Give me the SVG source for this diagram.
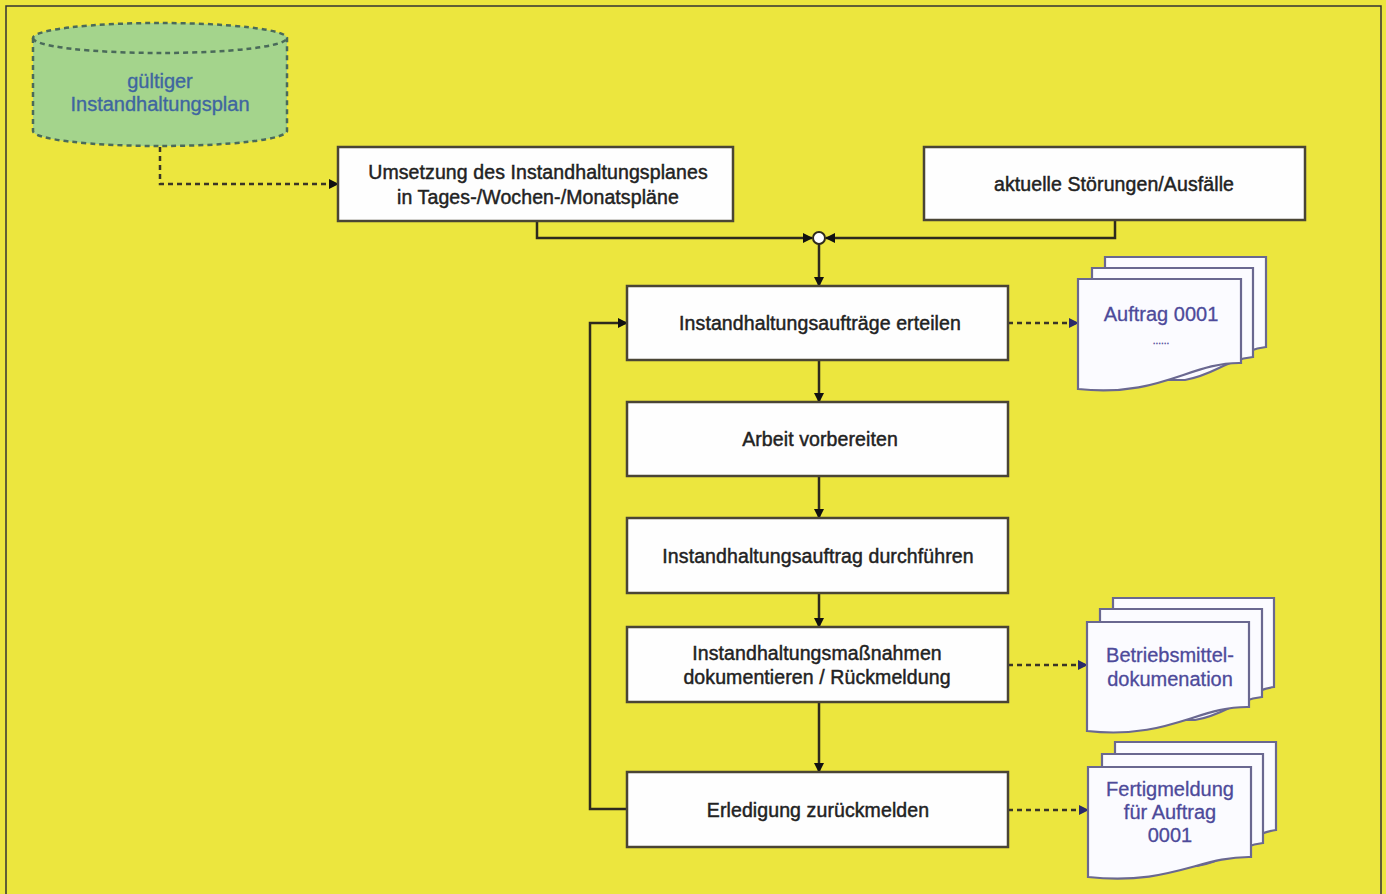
<svg xmlns="http://www.w3.org/2000/svg" width="1386" height="894" viewBox="0 0 1386 894">
<defs>
<style>
.box{fill:#fefefe;stroke:#4a4535;stroke-width:2.5}
.t{font-family:"Liberation Sans",Arial,sans-serif;font-size:19.5px;letter-spacing:0.1px;fill:#222;text-anchor:middle;stroke:#222;stroke-width:0.45}
.dt{font-family:"Liberation Sans",Arial,sans-serif;font-size:20px;fill:#4d4a9a;text-anchor:middle;stroke:#4d4a9a;stroke-width:0.3}
.ct{font-family:"Liberation Sans",Arial,sans-serif;font-size:20px;fill:#3f66a0;text-anchor:middle;stroke:#3f66a0;stroke-width:0.35}
.line{fill:none;stroke:#2e2a1e;stroke-width:2.5}
.dash{fill:none;stroke:#3a3626;stroke-width:2.5;stroke-dasharray:5 4}
.page{fill:#fbfbff;stroke:#6a6890;stroke-width:2.2}
</style>
<marker id="ah" viewBox="0 0 10 10" refX="9" refY="5" markerWidth="10" markerHeight="10" markerUnits="userSpaceOnUse" orient="auto">
<path d="M0,0 L10,5 L0,10 z" fill="#111"/>
</marker>
<marker id="ahb" viewBox="0 0 10 10" refX="9" refY="5" markerWidth="10" markerHeight="10" markerUnits="userSpaceOnUse" orient="auto">
<path d="M0,0 L10,5 L0,10 z" fill="#2a2a6a"/>
</marker>
</defs>
<rect x="0" y="0" width="1386" height="894" fill="#ece63e"/>
<path d="M6,894 V6 H1381 V894" fill="none" stroke="#333" stroke-width="1.5"/>

<g id="plan">
<path d="M33,38 V131 A127,15 0 0 0 287,131 V38 A127,15 0 0 0 33,38 Z" fill="#a4d48c" stroke="#4a6a5a" stroke-width="2.5" stroke-dasharray="5 4"/>
<path d="M33,38 A127,15 0 0 0 287,38" fill="none" stroke="#4a6a5a" stroke-width="2.5" stroke-dasharray="5 4"/>
<text class="ct" x="160" y="88">gültiger</text>
<text class="ct" x="160" y="111">Instandhaltungsplan</text>
</g>

<g id="connectors">
<path class="dash" d="M160,147 V184 H338" marker-end="url(#ah)"/>
<path class="line" d="M537,221 V238 H812" marker-end="url(#ah)"/>
<path class="line" d="M1115,220 V238 H826" marker-end="url(#ah)"/>
<circle cx="819" cy="238" r="6" fill="#fff" stroke="#2e2a1e" stroke-width="2"/>
<path class="line" d="M819,244 V286" marker-end="url(#ah)"/>
<path class="line" d="M819,360 V402" marker-end="url(#ah)"/>
<path class="line" d="M819,476 V518" marker-end="url(#ah)"/>
<path class="line" d="M819,593 V627" marker-end="url(#ah)"/>
<path class="line" d="M819,702 V772" marker-end="url(#ah)"/>
<path class="line" d="M627,809 H590 V323 H627" marker-end="url(#ah)"/>
<path class="dash" d="M1008,323 H1078" marker-end="url(#ahb)"/>
<path class="dash" d="M1008,665 H1087" marker-end="url(#ahb)"/>
<path class="dash" d="M1008,810 H1088" marker-end="url(#ahb)"/>
</g>

<g id="umsetzung">
<rect class="box" x="338" y="147" width="395" height="74"/>
<text class="t" x="538" y="179">Umsetzung des Instandhaltungsplanes</text>
<text class="t" x="538" y="204">in Tages-/Wochen-/Monatspläne</text>
</g>
<g id="stoerungen">
<rect class="box" x="924" y="147" width="381" height="73"/>
<text class="t" x="1114" y="191">aktuelle Störungen/Ausfälle</text>
</g>
<g id="erteilen">
<rect class="box" x="627" y="286" width="381" height="74"/>
<text class="t" x="820" y="330">Instandhaltungsaufträge erteilen</text>
</g>
<g id="vorbereiten">
<rect class="box" x="627" y="402" width="381" height="74"/>
<text class="t" x="820" y="446">Arbeit vorbereiten</text>
</g>
<g id="durchfuehren">
<rect class="box" x="627" y="518" width="381" height="75"/>
<text class="t" x="818" y="563">Instandhaltungsauftrag durchführen</text>
</g>
<g id="dokumentieren">
<rect class="box" x="627" y="627" width="381" height="75"/>
<text class="t" x="817" y="660">Instandhaltungsmaßnahmen</text>
<text class="t" x="817" y="684">dokumentieren / Rückmeldung</text>
</g>
<g id="erledigung">
<rect class="box" x="627" y="772" width="381" height="75"/>
<text class="t" x="818" y="817">Erledigung zurückmelden</text>
</g>

<g id="doc-auftrag">
<path class="page" d="M1105,257 H1266 V347 C1240,350 1230,365 1200,370 L1105,370 Z"/>
<path class="page" d="M1092,268 H1253 V357 C1225,360 1215,375 1185,380 L1092,380 Z"/>
<path class="page" d="M1078,279 H1241 V363 C1190,362 1160,398 1078,389 Z"/>
<text class="dt" x="1161" y="321">Auftrag 0001</text>
<text class="dt" x="1161" y="344" style="font-size:10px">......</text>
</g>
<g id="doc-betriebsmittel">
<path class="page" d="M1113,598 H1274 V687 C1250,690 1240,705 1210,710 L1113,710 Z"/>
<path class="page" d="M1100,609 H1262 V697 C1235,700 1225,715 1195,720 L1100,720 Z"/>
<path class="page" d="M1087,622 H1249 V707 C1198,706 1168,740 1087,731 Z"/>
<text class="dt" x="1170" y="662">Betriebsmittel-</text>
<text class="dt" x="1170" y="686">dokumenation</text>
</g>
<g id="doc-fertigmeldung">
<path class="page" d="M1115,742 H1276 V830 C1252,833 1242,848 1212,853 L1115,853 Z"/>
<path class="page" d="M1102,754 H1263 V843 C1237,846 1227,861 1197,866 L1102,866 Z"/>
<path class="page" d="M1088,767 H1251 V857 C1200,856 1170,886 1088,877 Z"/>
<text class="dt" x="1170" y="796">Fertigmeldung</text>
<text class="dt" x="1170" y="819">für Auftrag</text>
<text class="dt" x="1170" y="842">0001</text>
</g>
</svg>
